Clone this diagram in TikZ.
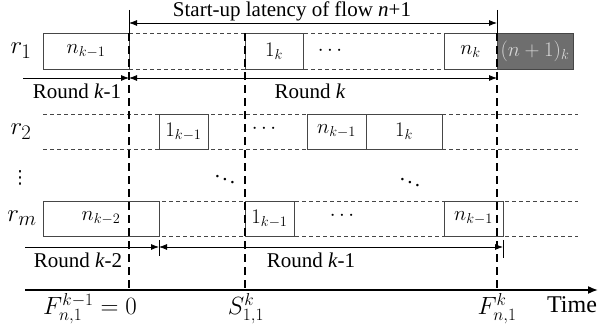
\documentclass[tikz,border=0pt]{standalone}
\usepackage[no-math]{fontspec}
\setmainfont{Liberation Serif}
\newfontfamily\dvfont{DejaVu Sans}
\usetikzlibrary{arrows.meta}
\definecolor{boxc}{RGB}{70,70,70}
\definecolor{darkbox}{RGB}{110,110,110}
\definecolor{lighttxt}{RGB}{215,215,215}
\begin{document}
\begin{tikzpicture}[x=1pt,y=-1pt,
  txt/.style={font=\fontsize{21}{25}\selectfont, inner sep=0pt},
  rowlab/.style={font=\fontsize{28}{32}\selectfont, inner sep=0pt},
  axlab/.style={font=\fontsize{24}{28}\selectfont, inner sep=0pt},
  cell/.style={draw=boxc, fill=white, line width=0.9pt, inner sep=0pt, font=\fontsize{20}{24}\selectfont},
  vdash/.style={line width=1.6pt, dash pattern=on 8pt off 5pt},
  hdash/.style={line width=0.8pt, dash pattern=on 4pt off 3pt, draw=boxc},
  arr/.style={-{Latex[length=8pt,width=6pt]}, line width=0.8pt},
  darr/.style={{Latex[length=8pt,width=6pt]}-{Latex[length=8pt,width=6pt]}, line width=0.8pt},
]
\useasboundingbox (0,0) rectangle (598,328);

% coordinates
\coordinate (r1tl) at (129,33.5); \coordinate (r1tr) at (497,33.5);
\coordinate (r1bl) at (129,69.5); \coordinate (r1br) at (497,69.5);
\coordinate (r2tl) at (43,114); \coordinate (r2tr) at (578,114);
\coordinate (r2bl) at (43,149); \coordinate (r2br) at (578,149);
\coordinate (rmtl) at (43,201); \coordinate (rmtr) at (578,201);
\coordinate (rmbl) at (43,236); \coordinate (rmbr) at (578,236);

% dashed row lines
\draw[hdash] (r1tl) -- (r1tr);
\draw[hdash] (r1bl) -- (r1br);
\draw[hdash] (r2tl) -- (r2tr);
\draw[hdash] (r2bl) -- (r2br);
\draw[hdash] (rmtl) -- (rmtr);
\draw[hdash] (rmbl) -- (rmbr);

% row labels
\node[rowlab] (lr1) at (21,51) {$r_1$};
\node[rowlab] (lr2) at (21,132) {$r_2$};
\node[inner sep=0pt, font=\dvfont\fontsize{18}{20}\selectfont] (lvd) at (20,178) {⋮};
\node[rowlab] (lrm) at (22,218) {$r_m$};

% row 1 cells
\node[cell, minimum width=86pt, minimum height=36pt] (a1) at (86,51.5) {$n_{k-1}$};
\node[cell, minimum width=58pt, minimum height=36pt] (a2) at (274,51.5) {$1_k$};
\node[txt] (a2d) at (330,51) {$\cdots$};
\node[cell, minimum width=53pt, minimum height=36pt] (a3) at (470.5,51.5) {$n_k$};
\node[cell, fill=darkbox, text=lighttxt, minimum width=76pt, minimum height=36pt] (a4) at (535,51.5) {$(n+1)_k$};

% row 2 cells
\node[cell, minimum width=49pt, minimum height=35pt] (b1) at (183.5,131.5) {$1_{k-1}$};
\node[txt] (b1d) at (264,129) {$\cdots$};
\node[cell, minimum width=59pt, minimum height=35pt] (b2) at (336.5,131.5) {$n_{k-1}$};
\node[cell, minimum width=76pt, minimum height=35pt] (b3) at (404,131.5) {$1_k$};

% diagonal dots
\node[txt] (dd1) at (225,176) {$\ddots$};
\node[txt] (dd2) at (410,179) {$\ddots$};

% row m cells
\node[cell, minimum width=116pt, minimum height=35pt] (c1) at (101,218.5) {$n_{k-2}$};
\node[cell, minimum width=49pt, minimum height=35pt] (c2) at (269.5,218.5) {$1_{k-1}$};
\node[txt] (c2d) at (342,216) {$\cdots$};
\node[cell, minimum width=59pt, minimum height=35pt] (c3) at (473.5,218.5) {$n_{k-1}$};

% vertical lines
\coordinate (v1t) at (129,10); \coordinate (v1m) at (129,33.5); \coordinate (v1b) at (129,290);
\coordinate (v2m) at (245,33.5); \coordinate (v2b) at (245,290);
\coordinate (v3t) at (497,10); \coordinate (v3m) at (497,33.5); \coordinate (v3b) at (497,290);
\draw[line width=0.8pt] (v1t) -- (v1m);
\draw[line width=0.8pt] (v3t) -- (v3m);
\draw[vdash] (v1m) -- (v1b);
\draw[vdash] (v2m) -- (v2b);
\draw[vdash] (v3m) -- (v3b);

% top latency arrow
\coordinate (la) at (129,23); \coordinate (lb) at (497,23);
\draw[darr] (la) -- (lb);
\node[txt] (lat) at (292,11) {Start-up latency of flow \textit{n}+1};

% round arrows row 1
\coordinate (ra0) at (23,78); \coordinate (ra1) at (129,78); \coordinate (ra2) at (497,78);
\draw[arr] (ra0) -- (ra1);
\draw[darr] (ra1) -- (ra2);
\node[txt] (rk1) at (77,91) {Round \textit{k}-1};
\node[txt] (rk) at (310,91) {Round \textit{k}};

% round arrows row m
\coordinate (rb0) at (25,247); \coordinate (rb1) at (159,247); \coordinate (rb2) at (503,247);
\coordinate (t1a) at (159,240); \coordinate (t1b) at (159,256);
\coordinate (t2a) at (503,240); \coordinate (t2b) at (503,258);
\draw[line width=0.8pt] (t1a) -- (t1b);
\draw[line width=0.8pt] (t2a) -- (t2b);
\draw[arr] (rb0) -- (rb1);
\draw[darr] (rb1) -- (rb2);
\node[txt] (rk2) at (78,260) {Round \textit{k}-2};
\node[txt] (rk1b) at (311,260) {Round \textit{k}-1};

% time axis
\coordinate (ax0) at (25,290); \coordinate (ax1) at (598,290);
\draw[-{Latex[length=10pt,width=8pt]}, line width=1.6pt] (ax0) -- (ax1);
\node[axlab] (tm) at (572,305) {Time};
\node[axlab] (f0) at (90,309) {$F^{k-1}_{n,1}=0$};
\node[axlab] (s11) at (246,309) {$S^{k}_{1,1}$};
\node[axlab] (fk) at (497,309) {$F^{k}_{n,1}$};
\end{tikzpicture}
\end{document}
